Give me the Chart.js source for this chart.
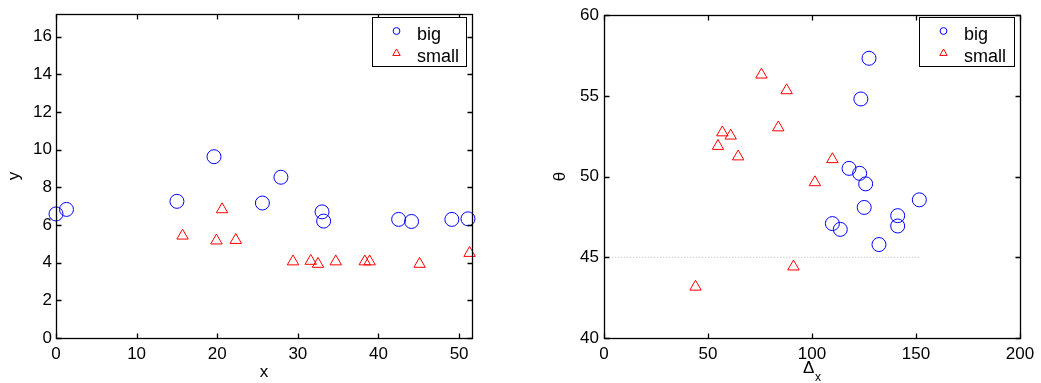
<!DOCTYPE html>
<html><head><meta charset="utf-8">
<script src="https://cdn.jsdelivr.net/npm/chart.js@4/dist/chart.umd.min.js"></script>
<style>
html,body{margin:0;padding:0;background:#fff;overflow:hidden}
.wrap{position:absolute;top:0;height:383px}
</style></head><body>
<div class="wrap" style="left:0;width:520px"><canvas id="c1" width="520" height="383"></canvas></div>
<div class="wrap" style="left:520px;width:521px"><canvas id="c2" width="521" height="383"></canvas></div>
<script>
// ---------- data ----------
const seriesNames = ['big', 'small'];

const leftBigX   = [0.0, 1.3, 15.0, 19.6, 25.6, 27.9, 33.0, 33.2, 42.5, 44.1, 49.1, 51.1];
const leftBigY   = [6.59, 6.83, 7.26, 9.63, 7.17, 8.54, 6.70, 6.21, 6.30, 6.19, 6.30, 6.33];
const leftSmallX = [15.7, 20.6, 19.9, 22.3, 29.4, 31.6, 32.5, 34.7, 38.3, 38.9, 45.1, 51.3];
const leftSmallY = [5.43, 6.83, 5.17, 5.20, 4.06, 4.09, 3.93, 4.06, 4.06, 4.06, 3.93, 4.51];

const rightBigX   = [117.8, 122.9, 125.8, 125.1, 109.8, 113.6, 132.2, 141.2, 141.2, 151.6, 123.5, 127.4];
const rightBigY   = [50.51, 50.20, 49.55, 48.09, 47.09, 46.73, 45.79, 47.58, 46.94, 48.56, 54.81, 57.33];
const rightSmallX = [75.7, 87.8, 83.8, 56.9, 60.9, 54.8, 64.5, 101.4, 109.8, 91.1, 44.0];
const rightSmallY = [56.31, 55.34, 53.04, 52.73, 52.53, 51.89, 51.24, 49.64, 51.07, 44.42, 43.17];

const refLineX = [4, 152];
const refLineY = [45, 45];

const leftXTicks  = [0, 10, 20, 30, 40, 50];
const leftYTicks  = [0, 2, 4, 6, 8, 10, 12, 14, 16];
const rightXTicks = [0, 50, 100, 150, 200];
const rightYTicks = [40, 45, 50, 55, 60];

// ---------- helpers ----------
const zip = (xs, ys) => xs.map((x, i) => ({x: x, y: ys[i]}));
const FONT = '"Liberation Sans", Arial, Helvetica, sans-serif';
Chart.defaults.font.family = FONT;
Chart.defaults.color = '#000';

const boxPlugin = {
  id: 'boxTicks',
  afterDatasetsDraw(chart, args, opts) {
    const ctx = chart.ctx, a = chart.chartArea;
    const xs = chart.scales.x, ys = chart.scales.y;
    const L = Math.round(a.left) + 0.5, R = Math.round(a.right) + 0.5;
    const T = Math.round(a.top) + 0.5, B = Math.round(a.bottom) + 0.5;
    ctx.save();
    ctx.strokeStyle = '#000';
    ctx.lineWidth = 1.3;
    ctx.strokeRect(L, T, R - L, B - T);
    const tl = 5;
    ctx.beginPath();
    xs.ticks.forEach(t => {
      const px = Math.round(xs.getPixelForValue(t.value)) + 0.5;
      ctx.moveTo(px, B); ctx.lineTo(px, B - tl);
      ctx.moveTo(px, T); ctx.lineTo(px, T + tl);
    });
    ys.ticks.forEach(t => {
      const py = Math.round(ys.getPixelForValue(t.value)) + 0.5;
      ctx.moveTo(L, py); ctx.lineTo(L + tl, py);
      ctx.moveTo(R, py); ctx.lineTo(R - tl, py);
    });
    ctx.stroke();
    ctx.restore();
  },
  afterDraw(chart, args, opts) {
    const ctx = chart.ctx;
    ctx.save();
    const lb = opts.legend;
    if (lb) {
      ctx.fillStyle = '#fff';
      ctx.fillRect(lb.x, lb.y, lb.w, lb.h);
      ctx.strokeStyle = '#000';
      ctx.lineWidth = 1;
      ctx.strokeRect(lb.x + 0.5, lb.y + 0.5, lb.w, lb.h);
      ctx.textBaseline = 'alphabetic';
      ctx.textAlign = 'left';
      chart.data.datasets.forEach((ds, i) => {
        if (ds.hideInLegend) return;
        const my = lb.y + 14 + i * 22.3;
        const mx = lb.x + 24.5;
        ctx.strokeStyle = ds.borderColor;
        ctx.fillStyle = 'rgba(0,0,0,0)';
        ctx.lineWidth = 1;
        Chart.helpers.drawPoint(ctx, {pointStyle: ds.pointStyle, radius: ds.pointStyle === 'triangle' ? 4.3 : 3.4, borderWidth: 1, rotation: 0}, mx, my);
        ctx.fillStyle = '#000';
        ctx.font = '18px ' + FONT;
        ctx.fillText(ds.label, lb.x + 45, my + 9);
      });
    }
    if (opts.deltaTitle) {
      const a = chart.chartArea;
      const cx = (a.left + a.right) / 2;
      ctx.fillStyle = '#000';
      ctx.textAlign = 'left';
      ctx.textBaseline = 'alphabetic';
      ctx.font = '17px ' + FONT;
      const w1 = ctx.measureText('Δ').width;
      ctx.font = '12px ' + FONT;
      const w2 = ctx.measureText('x').width;
      const x0 = cx - (w1 + w2 + 0.5) / 2;
      ctx.font = '17px ' + FONT;
      ctx.fillText('Δ', x0, 372.5);
      ctx.font = '12px ' + FONT;
      ctx.fillText('x', x0 + w1 + 0.5, 381);
    }
    ctx.restore();
  }
};

function makeChart(id, cfg) {
  return new Chart(document.getElementById(id), {
    type: 'scatter',
    data: {
      datasets: [
        {label: seriesNames[0], data: zip(cfg.bx, cfg.by), pointStyle: 'circle', pointRadius: 7,
         borderColor: '#0000ff', backgroundColor: 'rgba(0,0,0,0)', borderWidth: 1, clip: false},
        {label: seriesNames[1], data: zip(cfg.sx, cfg.sy), pointStyle: 'triangle', pointRadius: 6.6,
         borderColor: '#ff0000', backgroundColor: 'rgba(0,0,0,0)', borderWidth: 1, clip: false},
        ...(cfg.ref ? [{label: 'ref', type: 'line', hideInLegend: true, data: zip(refLineX, refLineY),
          borderColor: '#b4b4b4', borderDash: [1, 2], borderWidth: 1, pointRadius: 0, showLine: true, fill: false}] : [])
      ]
    },
    options: {
      responsive: false,
      animation: false,
      events: [],
      layout: {padding: cfg.pad},
      plugins: {legend: {display: false}, tooltip: {enabled: false},
        boxTicks: {legend: cfg.legend, deltaTitle: cfg.deltaTitle}},
      scales: {
        x: {type: 'linear', min: cfg.xmin, max: cfg.xmax,
          afterBuildTicks: s => { s.ticks = cfg.xt.map(v => ({value: v})); },
          afterFit: s => { s.height = 45; },
          grid: {display: false, drawTicks: false}, border: {display: false},
          ticks: {color: '#000', padding: 6, font: {size: 17}, maxRotation: 0, autoSkip: false},
          title: {display: !!cfg.xTitle, text: cfg.xTitle || '', color: '#000', font: {size: 17}, padding: {top: 0, bottom: 0}}
        },
        y: {type: 'linear', min: cfg.ymin, max: cfg.ymax,
          afterBuildTicks: s => { s.ticks = cfg.yt.map(v => ({value: v})); },
          afterFit: s => { s.width = cfg.yw; },
          grid: {display: false, drawTicks: false}, border: {display: false},
          ticks: {color: '#000', padding: cfg.ytp, font: {size: 17}, autoSkip: false},
          title: {display: true, text: cfg.yTitle, color: '#000', font: {size: 17}, padding: {top: cfg.ytitlePad, bottom: 0}}
        }
      }
    },
    plugins: [boxPlugin]
  });
}

makeChart('c1', {
  bx: leftBigX, by: leftBigY, sx: leftSmallX, sy: leftSmallY, ref: false,
  xmin: 0, xmax: 51.6, ymin: 0, ymax: 17.2, xt: leftXTicks, yt: leftYTicks,
  pad: {left: 0, right: 48, top: 12, bottom: 0}, yw: 56, ytp: 4,
  xTitle: 'x', yTitle: 'y', ytitlePad: 4,
  legend: {x: 372, y: 17, w: 94, h: 49}
});
makeChart('c2', {
  bx: rightBigX, by: rightBigY, sx: rightSmallX, sy: rightSmallY, ref: true,
  xmin: 0, xmax: 200, ymin: 40, ymax: 60, xt: rightXTicks, yt: rightYTicks,
  pad: {left: 0, right: 21, top: 12, bottom: 0}, yw: 84, ytp: 5,
  xTitle: null, yTitle: 'θ', ytitlePad: 30, deltaTitle: true,
  legend: {x: 399, y: 17, w: 95, h: 49}
});
</script>
</body></html>
